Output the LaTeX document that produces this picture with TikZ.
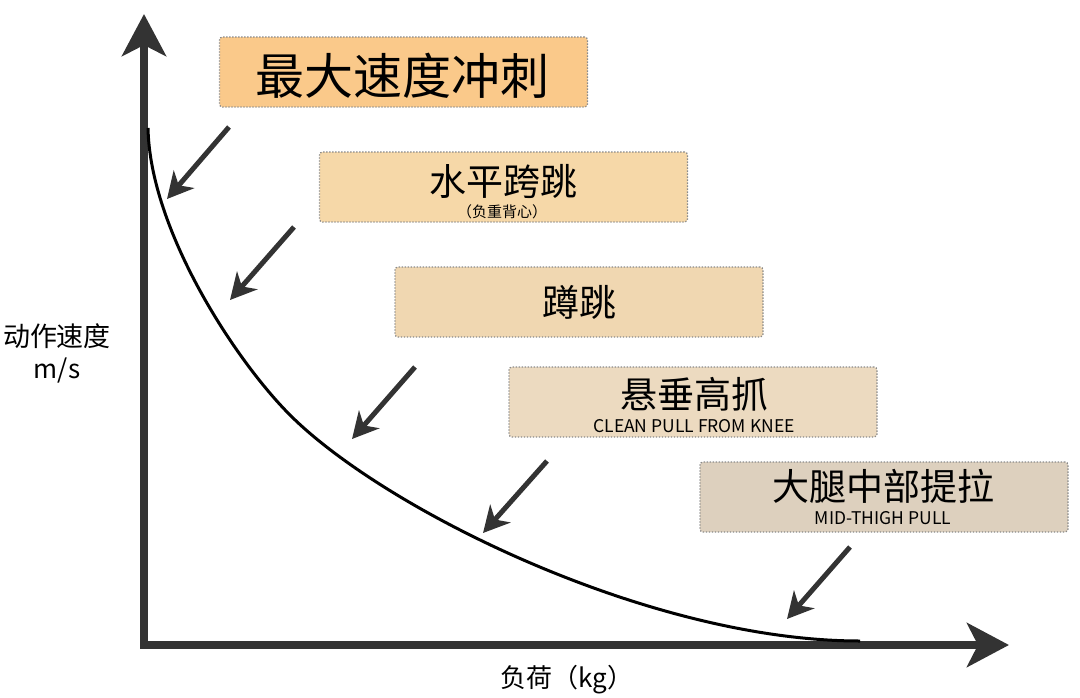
\documentclass[tikz,border=0pt]{standalone}
\usepackage{fontspec}
\setmainfont{Noto Sans CJK SC}
\usetikzlibrary{arrows.meta}
\definecolor{axisgray}{HTML}{333333}
\definecolor{boxedge}{HTML}{8A8A8A}
\definecolor{sprintfill}{HTML}{FAC98A}
\definecolor{boundfill}{HTML}{F6D8A8}
\definecolor{jumpfill}{HTML}{F0D7B1}
\definecolor{hangfill}{HTML}{ECDAC0}
\definecolor{thighfill}{HTML}{DDD0BE}
\tikzset{
  stage/.style={draw=boxedge, line width=1.3pt, dash pattern=on 1.3pt off 1.7pt,
    rounded corners=3pt, minimum width=368pt, minimum height=70pt, inner sep=0pt},
  pointer/.style={draw=axisgray, line width=5pt,
    -{Stealth[length=26pt,width=27pt,inset=8pt]}},
}
\begin{document}
\begin{tikzpicture}[x=1pt, y=-1pt]
  \useasboundingbox (0,0) rectangle (1080,697);
  % Axes
  \coordinate (origin) at (144,645);
  \coordinate (ytop) at (144,14);
  \coordinate (xend) at (1009,645);
  \draw[axisgray, line width=8pt, line join=miter,
    {Stealth[length=42pt,width=44pt,inset=11pt]}-{Stealth[length=42pt,width=44pt,inset=11pt]}]
    (ytop) -- (origin) -- (xend);
  % Curve
  \coordinate (c0) at (148,128);
  \coordinate (c1) at (290,415);
  \coordinate (c2) at (860,641);
  \draw[line width=3pt] (c0) .. controls (150,230) and (235,360) .. (c1)
    .. controls (385,510) and (650,641) .. (c2);
  % Axis labels
  \node[font=\fontsize{27}{30}\selectfont] (vlabel) at (57,336) {动作速度};
  \node[font=\fontsize{26}{30}\selectfont] (vunit) at (57,370) {m/s};
  \node[font=\fontsize{26}{30}\selectfont] (loadlabel) at (567,680) {负荷（kg）};
  % Boxes
  \node[stage, fill=sprintfill] (sprint) at (403.5,72) {};
  \node[stage, fill=boundfill] (bound) at (503.5,187) {};
  \node[stage, fill=jumpfill] (jump) at (579,302) {};
  \node[stage, fill=hangfill] (hang) at (693,402) {};
  \node[stage, fill=thighfill] (thigh) at (884,497) {};
  % Box texts
  \node[font=\fontsize{49}{52}\selectfont] (sprintT) at (402,76) {最大速度冲刺};
  \node[font=\fontsize{37}{40}\selectfont] (boundT) at (503,181) {水平跨跳};
  \node[font=\fontsize{15}{18}\selectfont] (boundS) at (502,212) {（负重背心）};
  \node[font=\fontsize{37}{40}\selectfont] (jumpT) at (579,302) {蹲跳};
  \node[font=\fontsize{37}{40}\selectfont] (hangT) at (694,394) {悬垂高抓};
  \node[font=\fontsize{17.5}{20}\selectfont] (hangS) at (694,426) {CLEAN PULL FROM KNEE};
  \node[font=\fontsize{17.5}{20}\selectfont] (thighS) at (883,518) {MID-THIGH PULL};
  \node[font=\fontsize{37}{40}\selectfont] (thighT) at (883,486) {大腿中部提拉};
  % Pointers to the curve
  \coordinate (p1) at (229,127); \coordinate (q1) at (167,199);
  \coordinate (p2) at (294,227); \coordinate (q2) at (230,300);
  \coordinate (p3) at (415,367); \coordinate (q3) at (352,439);
  \coordinate (p4) at (547,461); \coordinate (q4) at (483,533);
  \coordinate (p5) at (850,547); \coordinate (q5) at (787,619);
  \draw[pointer] (p1) -- (q1);
  \draw[pointer] (p2) -- (q2);
  \draw[pointer] (p3) -- (q3);
  \draw[pointer] (p4) -- (q4);
  \draw[pointer] (p5) -- (q5);
\end{tikzpicture}
\end{document}
